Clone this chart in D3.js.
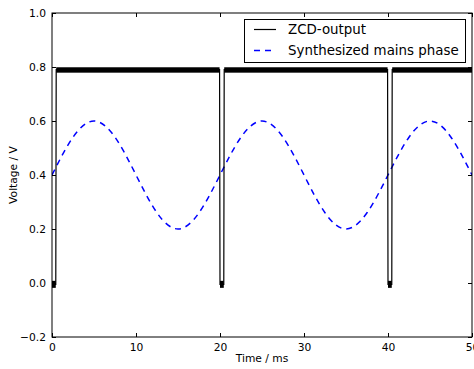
<!DOCTYPE html>
<html>
<head>
<meta charset="utf-8">
<script src="https://cdn.jsdelivr.net/npm/d3@7"></script>
<style>
  body { margin: 0; background: #fff; }
  text { font-family: "DejaVu Sans", sans-serif; fill: #000; }
</style>
</head>
<body>
<svg width="474" height="369"></svg>
<script>
// ZCD comparator output (ms, V)
var zcdTime  = [0, 0.45, 0.5, 19.95, 20.0, 20.45, 20.5, 39.95, 40.0, 40.45, 40.5, 50];
var zcdVolt  = [-0.005, -0.005, 0.79, 0.79, -0.005, -0.005, 0.79, 0.79, -0.005, -0.005, 0.79, 0.79];
// noisy "high" band of the output
var highStart = [0.5, 20.5, 40.5];
var highEnd   = [19.95, 39.95, 50];
var highLo = 0.779, highHi = 0.799;
// low stretches
var lowStart = [0, 20.0, 40.0];
var lowEnd   = [0.45, 20.45, 40.45];

// synthesized mains phase, sampled every 2.5 ms
var sineTime = d3.range(0, 50.01, 2.5);
var sineVolt = [0.40, 0.54, 0.60, 0.54, 0.40, 0.26, 0.20, 0.26, 0.40, 0.54, 0.60,
                0.54, 0.40, 0.26, 0.20, 0.26, 0.40, 0.54, 0.60, 0.54, 0.40];

var xTicks = [0, 10, 20, 30, 40, 50];
var yTicks = [-0.2, 0.0, 0.2, 0.4, 0.6, 0.8, 1.0];

var mLeft = 52, mRight = 472, mTop = 13, mBottom = 337;
var x = d3.scaleLinear().domain([0, 50]).range([mLeft, mRight]);
var y = d3.scaleLinear().domain([-0.2, 1.0]).range([mBottom, mTop]);

var svg = d3.select('svg');
svg.append('defs').append('clipPath').attr('id', 'clip')
  .append('rect').attr('x', mLeft).attr('y', mTop)
  .attr('width', mRight - mLeft).attr('height', mBottom - mTop);

var plot = svg.append('g').attr('clip-path', 'url(#clip)');

var line = d3.line().x(d => x(d[0])).y(d => y(d[1]));

// sine (behind)
plot.append('path')
  .datum(sineTime.map((t, i) => [t, sineVolt[i]]))
  .attr('d', d3.line().x(d => x(d[0])).y(d => y(d[1])).curve(d3.curveNatural))
  .attr('fill', 'none').attr('stroke', '#0000ff')
  .attr('stroke-width', 1.5).attr('stroke-dasharray', '6,5');

// zcd output
plot.append('path')
  .datum(zcdTime.map((t, i) => [t, zcdVolt[i]]))
  .attr('d', line)
  .attr('fill', 'none').attr('stroke', '#000').attr('stroke-width', 1.2);

plot.selectAll('rect.band')
  .data(highStart.map((s, i) => [s, highEnd[i]]))
  .enter().append('rect')
  .attr('class', 'band')
  .attr('x', d => x(d[0]))
  .attr('width', d => x(d[1]) - x(d[0]))
  .attr('y', y(highHi))
  .attr('height', y(highLo) - y(highHi))
  .attr('fill', '#000');

plot.selectAll('rect.low')
  .data(lowStart.map((s, i) => [s, lowEnd[i]]))
  .enter().append('rect')
  .attr('class', 'low')
  .attr('x', d => x(d[0]))
  .attr('width', d => x(d[1]) - x(d[0]))
  .attr('y', y(0.008))
  .attr('height', y(-0.018) - y(0.008))
  .attr('fill', '#000');

// inward ticks on all sides
var tl = 4;
svg.append('g').attr('transform', `translate(0,${mBottom})`)
  .call(d3.axisBottom(x).tickValues(xTicks).tickSizeInner(-tl).tickSizeOuter(0).tickPadding(6).tickFormat(d3.format('d')));
svg.append('g').attr('transform', `translate(0,${mTop})`)
  .call(d3.axisTop(x).tickValues(xTicks).tickSizeInner(-tl).tickSizeOuter(0).tickFormat(''));
svg.append('g').attr('transform', `translate(${mLeft},0)`)
  .call(d3.axisLeft(y).tickValues(yTicks).tickSizeInner(-tl).tickSizeOuter(0).tickPadding(6).tickFormat(d3.format('.1f')));
svg.append('g').attr('transform', `translate(${mRight},0)`)
  .call(d3.axisRight(y).tickValues(yTicks).tickSizeInner(-tl).tickSizeOuter(0).tickFormat(''));

svg.selectAll('.domain').remove();
svg.selectAll('.tick line').attr('stroke', '#000');
svg.selectAll('.tick text').attr('font-size', 10.7).attr('font-family', 'DejaVu Sans').attr('fill', '#000');

svg.append('rect').attr('x', mLeft).attr('y', mTop)
  .attr('width', mRight - mLeft).attr('height', mBottom - mTop)
  .attr('fill', 'none').attr('stroke', '#000').attr('stroke-width', 1);

// labels
svg.append('text').attr('x', (mLeft + mRight) / 2).attr('y', 362)
  .attr('text-anchor', 'middle').attr('font-size', 10.7).text('Time / ms');
svg.append('text').attr('transform', `translate(17,${(mTop + mBottom) / 2}) rotate(-90)`)
  .attr('text-anchor', 'middle').attr('font-size', 10.7).text('Voltage / V');

// legend
var lg = svg.append('g');
lg.append('rect').attr('x', 244.5).attr('y', 19.5).attr('width', 221).attr('height', 43)
  .attr('fill', '#fff').attr('stroke', '#000').attr('stroke-width', 1);
var legendItems = ['ZCD-output', 'Synthesized mains phase'];
var legendY = [29.5, 50.5];
lg.append('line').attr('x1', 254).attr('x2', 276).attr('y1', legendY[0]).attr('y2', legendY[0])
  .attr('stroke', '#000').attr('stroke-width', 1.2);
lg.append('line').attr('x1', 254).attr('x2', 276).attr('y1', legendY[1]).attr('y2', legendY[1])
  .attr('stroke', '#0000ff').attr('stroke-width', 1.5).attr('stroke-dasharray', '6,5');
lg.selectAll('text.lab').data(legendItems).enter().append('text')
  .attr('x', 288).attr('y', (d, i) => legendY[i]).attr('dy', '0.35em')
  .attr('font-size', 13.4).text(d => d);
</script>
</body>
</html>
